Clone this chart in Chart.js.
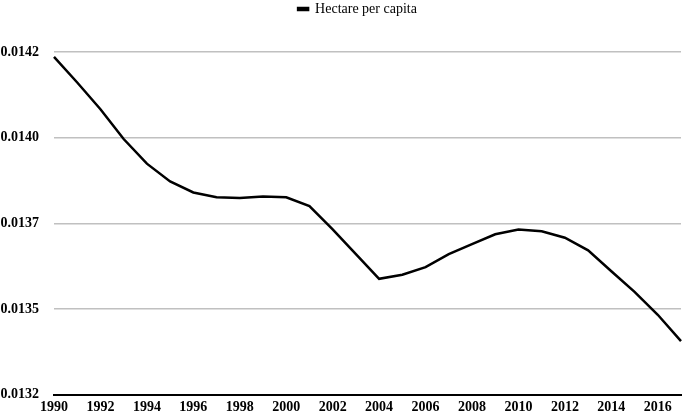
<!DOCTYPE html>
<html>
<head>
<meta charset="utf-8">
<script src="https://cdn.jsdelivr.net/npm/chart.js@4"></script>
<style>
  html, body { margin: 0; padding: 0; background: #fff; }
  #wrap { width: 685px; height: 418px; }
</style>
</head>
<body>
<div id="wrap"><canvas id="lineChart"></canvas></div>
<script>
const years = [1990, 1991, 1992, 1993, 1994, 1995, 1996, 1997, 1998, 1999, 2000, 2001, 2002, 2003,
               2004, 2005, 2006, 2007, 2008, 2009, 2010, 2011, 2012, 2013, 2014, 2015, 2016, 2017];
const hectarePerCapita = [0.014236, 0.014161, 0.014083, 0.013996, 0.013924, 0.013872, 0.013840,
                          0.013826, 0.013824, 0.013828, 0.013826, 0.013800, 0.013732, 0.013660,
                          0.013588, 0.013600, 0.013622, 0.013660, 0.013689, 0.013718, 0.013732,
                          0.013727, 0.013708, 0.013671, 0.013610, 0.013550, 0.013483, 0.013406];
const yTickValues = [0.01325, 0.0135, 0.01375, 0.014, 0.01425];
const yTickLabels = ['0.0132', '0.0135', '0.0137', '0.0140', '0.0142'];

const serif = "'Liberation Serif', 'DejaVu Serif', serif";

// push the plot down below the legend and nudge the legend a bit left, like the original
const legendGap = {
    id: 'legendGap',
    beforeInit(chart) {
        const fit = chart.legend.fit;
        chart.legend.fit = function() {
            fit.call(this);
            this.height += 26;
        };
    },
    afterLayout(chart) {
        chart.legend.left -= 10;
        chart.legend.right -= 10;
    }
};

const ctx = document.getElementById('lineChart').getContext('2d');
const lineChart = new Chart(ctx, {
    type: 'line',
    data: {
        labels: years,
        datasets: [{
            label: 'Hectare per capita',
            data: hectarePerCapita,
            borderColor: '#000',
            backgroundColor: '#000',
            borderWidth: 2.5,
            pointRadius: 0,
            tension: 0
        }]
    },
    options: {
        responsive: true,
        maintainAspectRatio: false,
        animation: false,
        layout: { padding: 0 },
        scales: {
            x: {
                offset: false,
                afterFit: function(axis) { axis.height = 19; },
                grid: { display: false, drawTicks: false },
                border: { display: true, color: '#000', width: 2 },
                ticks: {
                    autoSkip: false,
                    maxRotation: 0,
                    padding: 4,
                    color: '#000',
                    font: { family: serif, size: 14, weight: 'bold' },
                    callback: function(value, index) {
                        return index % 2 === 0 ? String(years[index]) : '';
                    }
                }
            },
            y: {
                min: 0.01325,
                max: 0.01425,
                afterBuildTicks: function(axis) {
                    axis.ticks = yTickValues.map(v => ({ value: v }));
                },
                afterFit: function(axis) { axis.width = 54; },
                grid: { color: '#c0c0c0', lineWidth: 1.5, drawTicks: false },
                border: { display: false },
                ticks: {
                    padding: 15,
                    color: '#000',
                    font: { family: serif, size: 14, weight: 'bold' },
                    callback: function(value, index) { return yTickLabels[index]; }
                }
            }
        },
        plugins: {
            legend: {
                position: 'top',
                align: 'center',
                fullSize: false,
                labels: {
                    color: '#000',
                    boxWidth: 10,
                    boxHeight: 2,
                    padding: 2,
                    font: { family: serif, size: 14 }
                }
            },
            tooltip: { enabled: false }
        }
    },
    plugins: [legendGap]
});
</script>
</body>
</html>
